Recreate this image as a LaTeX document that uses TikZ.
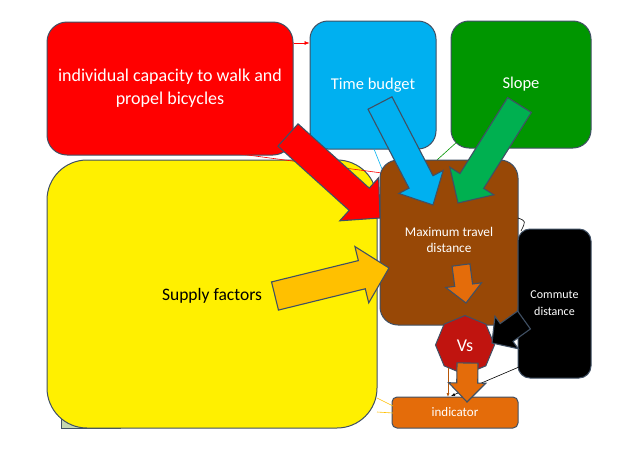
\documentclass[tikz,border=0pt]{standalone}
\usepackage{fontspec}
\setmainfont{Carlito}
\usetikzlibrary{calc,shapes.geometric,arrows.meta}
\definecolor{cred}{RGB}{255,0,0}
\definecolor{cblue}{RGB}{0,176,240}
\definecolor{cgreen}{RGB}{0,150,0}
\definecolor{cgreenarr}{RGB}{0,176,80}
\definecolor{cyellow}{RGB}{255,240,0}
\definecolor{cbrown}{RGB}{152,72,6}
\definecolor{cvs}{RGB}{192,20,15}
\definecolor{corange}{RGB}{228,108,10}
\definecolor{csupply}{RGB}{255,192,0}
\definecolor{cedge}{RGB}{64,80,100}
\definecolor{cgrey}{RGB}{196,215,176}
\newcommand\blockarr[6]{%
  \coordinate (bahead) at ($(#2)!#5!(#1)$);
  \filldraw[fill=#6, draw=cedge, line width=1.1pt, line join=miter]
    ($(#1)!#3!90:(#2)$) -- ($(bahead)!#3!90:(#2)$) -- ($(bahead)!#4!90:(#2)$) -- (#2)
    -- ($(bahead)!#4!-90:(#2)$) -- ($(bahead)!#3!-90:(#2)$) -- ($(#1)!#3!-90:(#2)$) -- cycle;}
\tikzset{
  box/.style={draw=cedge, line width=1pt, rectangle, inner sep=0pt, align=center, text=white},
  thin/.style={line width=0.6pt}
}
\begin{document}
\begin{tikzpicture}[x=1pt,y=-1pt]
\useasboundingbox (0,0) rectangle (638,451);
\fill[white] (0,0) rectangle (638,451);
% background small rectangle
\filldraw[fill=cgrey, draw=cedge, line width=0.8pt] (61,405) rectangle (120,428.5);
% boxes
\node[box, fill=cyellow, rounded corners=40pt, minimum width=330pt, minimum height=268pt, text=black] (supply) at (212,294) {};
\node[text=black, font=\fontsize{17.5}{20}\selectfont] (supplyt) at (212,296) {Supply factors};
\node[box, fill=cred, rounded corners=20pt, minimum width=246pt, minimum height=133pt,
  font=\fontsize{18}{23}\selectfont] (indiv) at (170,88.5) {individual capacity to walk and\\propel bicycles};
\node[box, fill=cblue, rounded corners=18pt, minimum width=126pt, minimum height=128pt,
  font=\fontsize{16.5}{18}\selectfont] (time) at (373,85) {Time budget};
\node[box, fill=cgreen, rounded corners=18pt, minimum width=140pt, minimum height=127pt,
  font=\fontsize{16.5}{18}\selectfont] (slope) at (521,84.5) {Slope};
% thin connectors
\draw[thin, cred, -{Latex[length=5pt,width=4pt]}] (indiv.east |- 0,43) -- (time.west |- 0,43);
\coordinate (rl1) at (240,154);
\coordinate (rl2) at (382,173);
\draw[thin, cred] (rl1) -- (rl2);
\coordinate (bl1) at (374,149);
\coordinate (bl2) at (384,174);
\draw[thin, cblue] (bl1) -- (bl2);
\coordinate (gl1) at (458,141);
\coordinate (gl2) at (437,160);
\draw[thin, cgreen] (gl1) -- (gl2);
\node[box, fill=cbrown, rounded corners=18pt, minimum width=138pt, minimum height=165pt] (maxd) at (449,242.5) {};
\node[text=white, align=center, font=\fontsize{13.3}{16}\selectfont] (maxdt) at (449,240) {Maximum travel\\distance};
\coordinate (cl1) at (518,218);
\coordinate (cl2) at (521,231);
\draw[thin, black] (cl1) .. controls (526,221) .. (cl2);
\node[draw=cedge, line width=1pt, fill=cvs, regular polygon, regular polygon sides=8, minimum size=59pt,
  inner sep=0pt, rotate=22.5] (vs) at (465,345) {};
\node[text=white, font=\fontsize{18}{20}\selectfont] (vst) at (465,346) {Vs};
\node[box, fill=black, rounded corners=12pt, minimum width=73pt, minimum height=149pt,
  font=\fontsize{12}{17}\selectfont] (comm) at (554.5,303.5) {Commute\\distance};
\coordinate (ka1) at (524,320);
\coordinate (ka2) at (492,343);
\blockarr{ka1}{ka2}{11pt}{20pt}{18pt}{black}
\node[box, fill=corange, rounded corners=5pt, minimum width=126pt, minimum height=31pt,
  font=\fontsize{13}{15}\selectfont] (ind) at (455,412.5) {indicator};
% more thin connectors
\coordinate (kl1) at (519,367);
\coordinate (kl2) at (451,396);
\draw[thin, black, -{Latex[length=4pt,width=3pt]}] (kl1) -- (kl2);
\coordinate (ol1) at (448,368);
\coordinate (ol2) at (448,397);
\draw[thin, corange!80!black, -{Latex[length=4pt,width=3pt]}] (ol1) -- (ol2);
\coordinate (yl1) at (377,398);
\coordinate (yl2) at (393,406);
\coordinate (yl3) at (377,412);
\coordinate (yl4) at (393,413);
\draw[thin, csupply] (yl1) -- (yl2) (yl3) -- (yl4);
% block arrows
\coordinate (ra1) at (288,135);
\coordinate (ra2) at (380,218);
\blockarr{ra1}{ra2}{15pt}{29pt}{28pt}{cred}
\coordinate (ba1) at (380,103);
\coordinate (ba2) at (433,205);
\blockarr{ba1}{ba2}{13.5pt}{25pt}{26pt}{cblue}
\coordinate (ga1) at (519.5,105);
\coordinate (ga2) at (458,203);
\blockarr{ga1}{ga2}{14pt}{26pt}{26pt}{cgreenarr}
\coordinate (sa1) at (275,296);
\coordinate (sa2) at (389,268);
\blockarr{sa1}{sa2}{14.5pt}{29pt}{28pt}{csupply}
\coordinate (oa1) at (461,265);
\coordinate (oa2) at (466,303);
\blockarr{oa1}{oa2}{9pt}{18pt}{18pt}{corange}
\coordinate (va1) at (467.5,363);
\coordinate (va2) at (467,402);
\blockarr{va1}{va2}{10.5pt}{18.5pt}{19pt}{corange}
\end{tikzpicture}
\end{document}
